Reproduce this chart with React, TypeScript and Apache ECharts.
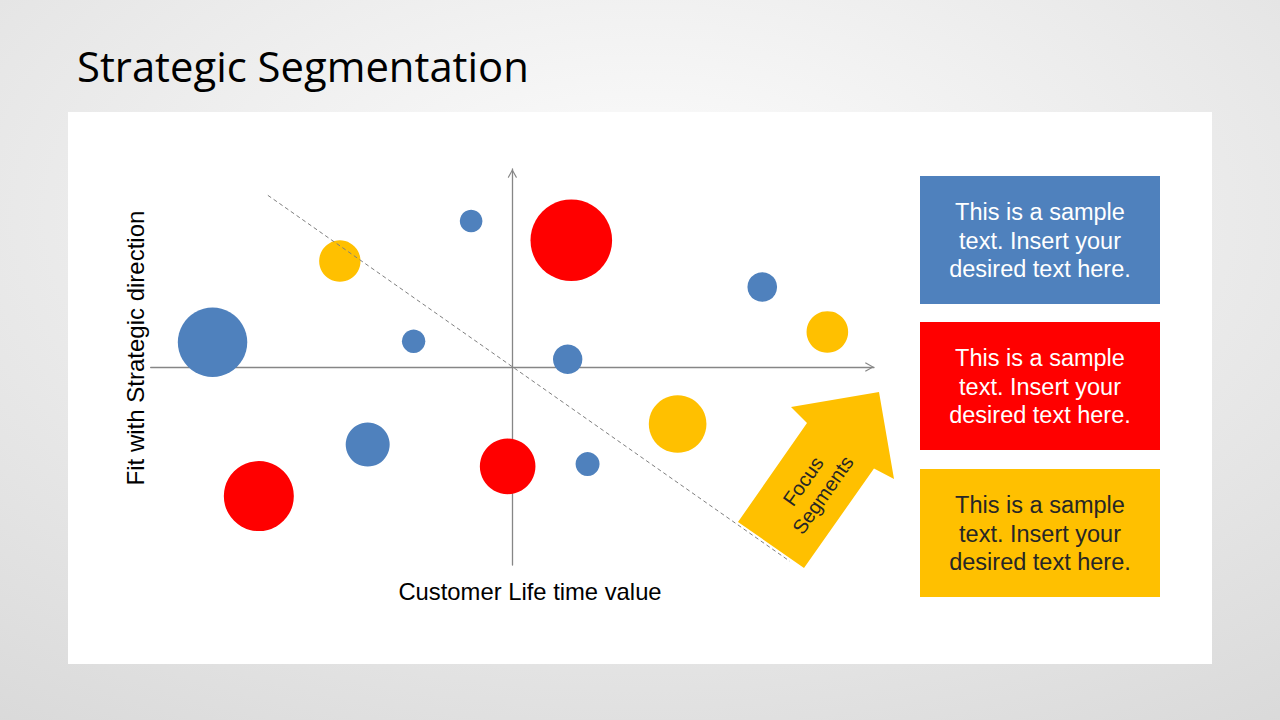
import React, { useEffect, useRef } from "react";
import * as echarts from "echarts";

// Bubble data: [Customer Life time value, Fit with Strategic direction, size]
const blueSegments: number[][] = [
  [-8.29, 1.25, 34.7],
  [-1.14, 7.37, 11.3],
  [-2.73, 1.3, 11.7],
  [1.53, 0.39, 14.7],
  [6.91, 4.04, 14.8],
  [-4.0, -3.92, 22],
  [2.08, -4.9, 12],
];
const redSegments: number[][] = [
  [1.63, 6.4, 40.8],
  [-7.01, -6.52, 35],
  [-0.13, -5.02, 27.8],
];
const yellowSegments: number[][] = [
  [-4.77, 5.35, 20.7],
  [8.71, 1.77, 20.8],
  [4.57, -2.88, 28.8],
];
// dashed focus boundary (data coordinates)
const focusLine: number[][] = [
  [-6.76, 8.67],
  [7.67, -9.81],
];

const titleText = "Strategic Segmentation";
const xAxisTitle = "Customer Life time value";
const yAxisTitle = "Fit with Strategic direction";
const arrowLabel = "Focus\nSegments";
const boxText = "This is a sample\ntext. Insert your\ndesired text here.";

const BLUE = "#4F81BD";
const RED = "#FF0000";
const YELLOW = "#FFC000";
const AXIS = "#868686";
const FONT = "'Liberation Sans', Arial, sans-serif";

const chevron = "path://M5,0 L10,9 L9,9.7 L5,2.3 L1,9.7 L0,9 Z";

export default function App() {
  const ref = useRef<HTMLDivElement>(null);
  useEffect(() => {
    if (!ref.current) return;
    const chart = echarts.init(ref.current, undefined, { renderer: "svg" });
    const axisCommon = {
      type: "value" as const,
      min: -10,
      max: 10,
      splitLine: { show: false },
      axisTick: { show: false },
      axisLabel: { show: false },
      axisLine: {
        show: true,
        onZero: true,
        symbol: ["none", chevron],
        symbolSize: [10, 9],
        symbolOffset: [0, -4.5],
        lineStyle: { color: AXIS, width: 1.3 },
      },
    };
    const bubble = (name: string, data: number[][], color: string) => ({
      name,
      type: "scatter" as const,
      data,
      symbol: "circle",
      symbolSize: (v: number[]) => v[2] * 2,
      itemStyle: { color, opacity: 1 },
      z: 3,
    });
    const boxes = [
      { y: 176, color: BLUE, text: "#ffffff" },
      { y: 322, color: RED, text: "#ffffff" },
      { y: 469, color: YELLOW, text: "#262626" },
    ];
    chart.setOption({
      animation: false,
      backgroundColor: {
        type: "radial",
        x: 0.5,
        y: 0.3,
        r: 0.9,
        colorStops: [
          { offset: 0, color: "#fdfdfd" },
          { offset: 1, color: "#d8d8d8" },
        ],
      },
      grid: {
        left: 150.7,
        top: 169,
        width: 723.3,
        height: 396,
        outerBoundsMode: "none",
        containLabel: false,
      },
      xAxis: axisCommon,
      yAxis: axisCommon,
      graphic: [
        {
          type: "rect",
          shape: { x: 68, y: 112, width: 1144, height: 552 },
          style: { fill: "#ffffff" },
          z: -10,
          silent: true,
        },
        {
          type: "text",
          x: 77,
          y: 65.5,
          style: {
            text: titleText,
            fill: "#000000",
            font: "41.8px 'Open Sans', sans-serif",
            align: "left",
            verticalAlign: "middle",
          },
        },
        {
          type: "text",
          x: 530,
          y: 591,
          style: {
            text: xAxisTitle,
            fill: "#000000",
            font: `23.8px ${FONT}`,
            align: "center",
            verticalAlign: "middle",
          },
        },
        {
          type: "text",
          x: 135,
          y: 348,
          rotation: Math.PI / 2,
          style: {
            text: yAxisTitle,
            fill: "#000000",
            font: `24px ${FONT}`,
            align: "center",
            verticalAlign: "middle",
          },
        },
        {
          type: "polygon",
          shape: {
            points: [
              [879, 392],
              [894, 479],
              [874, 468.5],
              [804, 568],
              [738, 522],
              [807, 423],
              [791, 407],
            ],
          },
          style: { fill: YELLOW },
          z: 5,
        },
        {
          type: "text",
          x: 813,
          y: 488,
          rotation: (55 * Math.PI) / 180,
          style: {
            text: arrowLabel,
            fill: "#262626",
            font: `20px ${FONT}`,
            lineHeight: 24,
            align: "center",
            verticalAlign: "middle",
          },
          z: 6,
        },
        ...boxes.flatMap((b) => [
          {
            type: "rect",
            shape: { x: 920, y: b.y, width: 240, height: 128 },
            style: { fill: b.color },
          },
          {
            type: "text",
            x: 1040,
            y: b.y + 64.5,
            style: {
              text: boxText,
              fill: b.text,
              font: `23.5px ${FONT}`,
              lineHeight: 28.5,
              align: "center",
              verticalAlign: "middle",
            },
            z: 2,
          },
        ]),
      ],
      series: [
        {
          name: "Focus boundary",
          type: "line",
          data: focusLine,
          symbol: "none",
          lineStyle: { color: "#7f7f7f", width: 1, type: [4, 3] },
          z: 10,
          silent: true,
        },
        bubble("Blue", blueSegments, BLUE),
        bubble("Red", redSegments, RED),
        bubble("Yellow", yellowSegments, YELLOW),
      ],
    });
    return () => chart.dispose();
  }, []);
  return (
    <div
      ref={ref}
      style={{ position: "absolute", left: 0, top: 0, width: 1280, height: 720 }}
    />
  );
}
